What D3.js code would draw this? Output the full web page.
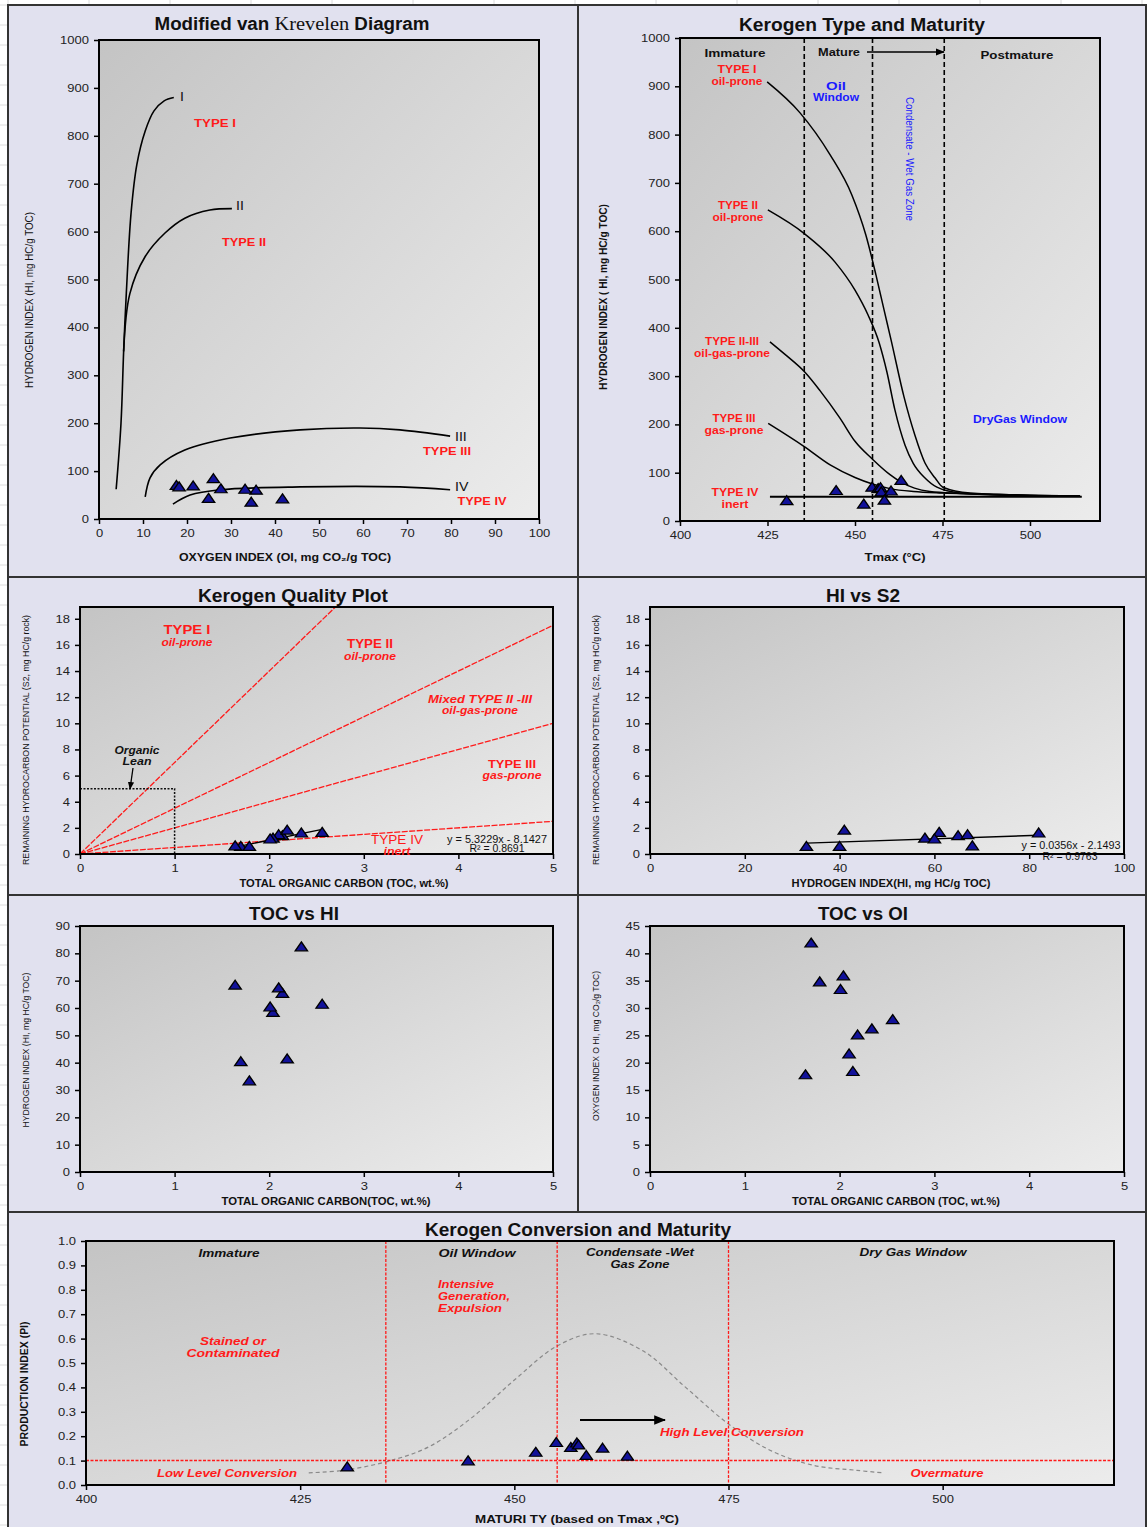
<!DOCTYPE html>
<html><head><meta charset="utf-8">
<script src="https://cdn.jsdelivr.net/npm/d3@7"></script>
<style>
body{margin:0;background:#fff;}
svg{display:block;font-family:"Liberation Sans",Arial,sans-serif;}
</style></head><body>
<svg id="c" width="1147" height="1527"></svg>
<script>
// ---- Rock-Eval samples (one entry per sample) ----
const sampleTmax = [430.5, 444.6, 452.5, 454.9, 456.6, 457.3, 457.5, 458.4, 460.3, 463.2];
const sampleTOC  = [1.70, 2.56, 1.79, 1.64, 2.14, 2.10, 2.04, 2.19, 2.01, 2.34];
const sampleHI   = [40, 61, 33, 68, 65, 67, 58, 41, 60, 82];
const sampleOI   = [41.7, 27.7, 34.6, 17.6, 18.2, 21.4, 35.7, 24.9, 33.2, 26.0];
const sampleS2   = [0.50, 1.58, 0.50, 0.55, 1.32, 1.40, 1.14, 1.75, 1.07, 1.53];
const samplePI   = [0.07, 0.095, 0.13, 0.17, 0.15, 0.168, 0.16, 0.117, 0.147, 0.114];

// ---- van Krevelen evolution paths [OI, HI] ----
const vkTypeI   = [[3.9,62],[5.0,200],[5.6,350],[6.2,470],[7.3,640],[8.6,740],[10.5,810],[12.5,852],[14.8,873],[17.0,880]];
const vkTypeII  = [[5.6,350],[7.0,470],[10.5,548],[15,597],[19.5,628],[25.2,645],[30.2,648]];
const vkTypeIII = [[10.5,46],[11.6,86],[13.9,113],[19.5,144],[29.8,169],[45.7,186],[59.3,190],[68.4,186],[79.8,173]];
const vkTypeIV  = [[16.8,31],[20.7,50],[27.5,61],[45.7,67],[68.4,67],[79.8,61]];

// ---- HI vs Tmax kerogen maturation paths [Tmax, HI] ----
const tmTypeI    = [[424.9,909],[434.3,845],[442.9,758],[449.1,675],[453.1,592],[456.0,509],[458.3,437],[460.3,375],[464.0,257],[467.1,178],[470.0,120],[472.9,89],[475.1,70],[482.9,58],[497.1,54],[514.3,52]];
const tmTypeII   = [[425.1,644],[435.7,594],[444.3,536],[450.0,478],[453.7,427],[456.9,369],[459.1,309],[461.4,230],[464.3,157],[466.6,120],[470.0,89],[473.4,70],[480.0,58],[491.4,54],[514.3,52]];
const tmTypeIIIII= [[425.7,371],[430,345],[435.7,308],[440,270],[445.7,213],[450,165],[455,128],[460,96],[463.3,80],[467,68],[471.4,61],[480,57],[491,54],[514.3,52]];
const tmTypeIII  = [[425.2,202],[435.5,154],[442.9,116],[450,90],[455.2,76],[460,67],[466.7,61],[475,58],[485.7,56],[500,53],[514.3,52]];
const tmTypeIV   = [[425.7,50],[514.8,50]];
const tmZoneBounds = [435.5, 455, 475.5];

// ---- S2 vs TOC kerogen type boundaries (HI, mg HC/g TOC) ----
const qualityHI = [700, 350, 200, 50];
const organicLean = {toc: 1, s2: 5};

// ---- PI vs Tmax conversion envelope [Tmax, PI] ----
const piEnvelope = [[426,0.05],[430,0.06],[435,0.095],[440,0.156],[445,0.275],[450,0.43],[455,0.57],[459.5,0.62],[465,0.55],[470,0.40],[475,0.25],[480,0.14],[485,0.08],[490,0.06],[493,0.05]];
const piZoneBounds = [435, 455, 475];
const piThreshold = 0.1;

// ---- tick values ----
const ticksVK_OI   = [0,10,20,30,40,50,60,70,80,90,100];
const ticksHI1000  = [0,100,200,300,400,500,600,700,800,900,1000];
const ticksTmax    = [400,425,450,475,500];
const ticksTOC     = [0,1,2,3,4,5];
const ticksS2      = [0,2,4,6,8,10,12,14,16,18];
const ticksHI100   = [0,20,40,60,80,100];
const ticksHI90    = [0,10,20,30,40,50,60,70,80,90];
const ticksOI45    = [0,5,10,15,20,25,30,35,40,45];
const ticksPI      = [0,0.1,0.2,0.3,0.4,0.5,0.6,0.7,0.8,0.9,1.0];

const RED = "#ff1a1a", BLUE = "#1a1aff", NAVY = "#12129a";
const STRETCH = 1.18;   // lettering is set slightly wide

const svg = d3.select("#c");
const defs = svg.append("defs");
const grad = defs.append("linearGradient").attr("id","plotFill").attr("x1",0).attr("y1",0).attr("x2",1).attr("y2",1);
grad.append("stop").attr("offset",0).attr("stop-color","#c4c4c4");
grad.append("stop").attr("offset",1).attr("stop-color","#ececec");
const mk = defs.append("marker").attr("id","arrow").attr("viewBox","0 0 10 10").attr("refX",9).attr("refY",5)
  .attr("markerWidth",6).attr("markerHeight",6).attr("orient","auto");
mk.append("path").attr("d","M0,1L10,5L0,9Z").attr("fill","#000");

// spreadsheet grid behind the panels
const bg = svg.append("g").attr("stroke","#dcdcdc").attr("stroke-width",1);
d3.range(8, 1147, 81).forEach(v => bg.append("line").attr("x1",v).attr("x2",v).attr("y1",0).attr("y2",1527));
d3.range(5, 1527, 20).forEach(v => bg.append("line").attr("y1",v).attr("y2",v).attr("x1",0).attr("x2",1147));

// text helper; w / len = fit the string to this width
function txt(x, y, s, o = {}) {
  const t = svg.append("text").attr("x", x).attr("y", y)
    .attr("font-size", o.size || 11).attr("font-weight", o.weight || "normal")
    .attr("font-style", o.style || "normal").attr("fill", o.fill || "#111")
    .attr("text-anchor", o.anchor || "middle").text(s);
  if (o.family) t.attr("font-family", o.family);
  if (o.rotate) t.attr("transform", `rotate(${o.rotate},${x},${y})`);
  const L = o.len || o.w;
  if (L) t.attr("textLength", L).attr("lengthAdjust", "spacingAndGlyphs");
  return t;
}
const redB  = (w, size = 10.5) => ({size, weight:"bold", fill:RED, w});
const redBI = (w, size = 10.5) => ({size, weight:"bold", style:"italic", fill:RED, w});

function frame(x, y, w, h) {
  svg.append("rect").attr("x",x).attr("y",y).attr("width",w).attr("height",h)
    .attr("fill","#e1e1ef").attr("stroke","#333").attr("stroke-width",2);
}

let clipId = 0;
function plot(p, xDom, yDom, xt, yt, xfmt, yfmt) {
  const x = d3.scaleLinear().domain(xDom).range([p.l, p.r]);
  const y = d3.scaleLinear().domain(yDom).range([p.b, p.t]);
  svg.append("rect").attr("x",p.l).attr("y",p.t).attr("width",p.r-p.l).attr("height",p.b-p.t)
    .attr("fill","url(#plotFill)");
  const id = "clip" + (clipId++);
  defs.append("clipPath").attr("id", id).append("rect")
    .attr("x",p.l).attr("y",p.t).attr("width",p.r-p.l).attr("height",p.b-p.t);
  const g = svg.append("g").attr("clip-path", `url(#${id})`);
  const ax = svg.append("g").attr("transform",`translate(0,${p.b})`)
    .call(d3.axisBottom(x).tickValues(xt).tickSize(5).tickSizeOuter(0).tickPadding(5).tickFormat(xfmt || d3.format("d")));
  const ay = svg.append("g").attr("transform",`translate(${p.l},0)`)
    .call(d3.axisLeft(y).tickValues(yt).tickSize(5).tickSizeOuter(0).tickPadding(5).tickFormat(yfmt || d3.format("d")));
  [ax, ay].forEach(a => {
    a.select(".domain").remove();
    a.selectAll(".tick line").attr("stroke","#000").attr("stroke-width",1.5);
    a.selectAll(".tick text").attr("font-size",11).attr("fill","#222").attr("font-family","Liberation Sans, Arial, sans-serif");
  });
  const border = () => svg.append("rect").attr("x",p.l).attr("y",p.t).attr("width",p.r-p.l).attr("height",p.b-p.t)
    .attr("fill","none").attr("stroke","#000").attr("stroke-width",2);
  return {x, y, g, p, border};
}

function tri(P, xs, ys) {
  P.g.selectAll(null).data(xs.map((v, i) => [v, ys[i]])).join("path")
    .attr("d", d3.symbol(d3.symbolTriangle, 46))
    .attr("transform", d => `translate(${P.x(d[0])},${P.y(d[1])}) scale(1.2,1)`)
    .attr("fill", NAVY).attr("stroke","#000").attr("stroke-width",1.2);
}

function curve(P, pts, o = {}) {
  return P.g.append("path").datum(pts)
    .attr("d", d3.line().x(d => P.x(d[0])).y(d => P.y(d[1])).curve(o.curve || d3.curveCatmullRom.alpha(0.5)))
    .attr("fill","none").attr("stroke", o.stroke || "#000").attr("stroke-width", o.width || 1.5)
    .attr("stroke-dasharray", o.dash || null);
}

function fitLine(xs, ys) {
  const mx = d3.mean(xs), my = d3.mean(ys);
  const b = d3.sum(xs, (v, i) => (v - mx) * (ys[i] - my)) / d3.sum(xs, v => (v - mx) ** 2);
  const a = my - b * mx;
  const [x0, x1] = d3.extent(xs);
  return [[x0, a + b * x0], [x1, a + b * x1]];
}

function title(x, y, s, w) { return txt(x, y, s, {size:17.5, weight:"bold", w}); }

// ================= Panel frames =================
frame(8, 5, 570, 572);
frame(578, 5, 568, 572);
frame(8, 577, 570, 318);
frame(578, 577, 568, 318);
frame(8, 895, 570, 317);
frame(578, 895, 568, 317);
frame(8, 1212, 1138, 318);

// ================= Modified van Krevelen =================
{
  const P = plot({l:99, r:539, t:40, b:519}, [0,100], [0,1000], ticksVK_OI, ticksHI1000);
  [vkTypeI, vkTypeII, vkTypeIII, vkTypeIV].forEach(c => curve(P, c, {width:1.6}));
  tri(P, sampleOI, sampleHI);
  P.border();
  const t = svg.append("text").attr("x", 292).attr("y", 30).attr("text-anchor","middle").attr("fill","#111")
    .attr("textLength", 275).attr("lengthAdjust","spacingAndGlyphs");
  t.append("tspan").attr("font-size",17.5).attr("font-weight","bold").text("Modified van ");
  t.append("tspan").attr("font-size",19).attr("font-family","Liberation Serif, Times New Roman, serif").text("Krevelen");
  t.append("tspan").attr("font-size",17.5).attr("font-weight","bold").text(" Diagram");
  txt(180, 101, "I", {size:12, anchor:"start"});
  txt(236, 210, "II", {size:12, anchor:"start"});
  txt(455, 441, "III", {size:12, anchor:"start"});
  txt(455, 491, "IV", {size:12, anchor:"start"});
  txt(215, 127, "TYPE I", redB(42, 11));
  txt(244, 246, "TYPE II", redB(44, 11));
  txt(447, 455, "TYPE III", redB(48, 11));
  txt(482, 505, "TYPE IV", redB(49, 11));
  txt(285, 561, "OXYGEN INDEX (OI, mg CO\u2082/g  TOC)", {size:10, weight:"bold", len:212});
  txt(33, 300, "HYDROGEN INDEX (HI, mg HC/g TOC)", {size:10, rotate:-90, len:176});
}

// ================= Kerogen Type and Maturity =================
{
  const P = plot({l:680, r:1100, t:38, b:521}, [400,520], [0,1000], ticksTmax, ticksHI1000);
  tmZoneBounds.forEach(v => P.g.append("line").attr("x1",P.x(v)).attr("x2",P.x(v)).attr("y1",P.p.t).attr("y2",P.p.b)
    .attr("stroke","#000").attr("stroke-width",1.6).attr("stroke-dasharray","5,3"));
  [tmTypeI, tmTypeII, tmTypeIIIII, tmTypeIII].forEach(c => curve(P, c, {width:1.5, curve:d3.curveMonotoneX}));
  curve(P, tmTypeIV, {width:2, curve:d3.curveLinear});
  tri(P, sampleTmax, sampleHI);
  P.border();
  title(862, 31, "Kerogen Type and Maturity", 246);
  txt(735, 57, "Immature", {size:11, weight:"bold", w:61});
  txt(839, 56, "Mature", {size:11, weight:"bold", w:42});
  svg.append("line").attr("x1",867).attr("x2",944).attr("y1",52).attr("y2",52).attr("stroke","#000").attr("stroke-width",1.5).attr("marker-end","url(#arrow)");
  txt(1017, 59, "Postmature", {size:11, weight:"bold", w:73});
  txt(836, 90, "Oil", {size:10.5, weight:"bold", fill:BLUE, w:20});
  txt(836, 101, "Window", {size:10.5, weight:"bold", fill:BLUE, w:46});
  txt(906, 159, "Condensate - Wet Gas Zone", {size:11, fill:BLUE, rotate:90, len:124});
  txt(1020, 423, "DryGas Window", {size:10.5, weight:"bold", fill:BLUE, w:94});
  const lab = [[737,73,"TYPE I",39,"oil-prone",51],[738,209,"TYPE II",40,"oil-prone",51],[732,345,"TYPE II-III",54,"oil-gas-prone",76],
               [734,422,"TYPE III",43,"gas-prone",59],[735,496,"TYPE IV",47,"inert",27]];
  lab.forEach(d => { txt(d[0], d[1], d[2], redB(d[3], 10)); txt(d[0], d[1]+12, d[4], redB(d[5], 10)); });
  txt(895, 561, "Tmax (\u00B0C)", {size:11, weight:"bold", w:61});
  txt(607, 297, "HYDROGEN INDEX ( HI, mg HC/g TOC)", {size:10, weight:"bold", rotate:-90, len:186});
}

// ================= Kerogen Quality Plot =================
{
  const P = plot({l:80, r:553, t:607, b:854}, [0,5], [0,18.9], ticksTOC, ticksS2);
  qualityHI.forEach(h => P.g.append("line").attr("x1",P.x(0)).attr("y1",P.y(0)).attr("x2",P.x(5)).attr("y2",P.y(h/100*5))
    .attr("stroke",RED).attr("stroke-width",1.3).attr("stroke-dasharray","6,1.5"));
  P.g.append("path").attr("d", `M${P.x(0)},${P.y(organicLean.s2)}H${P.x(organicLean.toc)}V${P.y(0)}`)
    .attr("fill","none").attr("stroke","#111").attr("stroke-width",1.5).attr("stroke-dasharray","2,1.5");
  const f = fitLine(sampleTOC, sampleS2);
  curve(P, f, {curve:d3.curveLinear, width:1.4});
  tri(P, sampleTOC, sampleS2);
  P.border();
  title(293, 602, "Kerogen Quality Plot", 190);
  txt(187, 634, "TYPE  I", redB(47, 12));
  txt(187, 646, "oil-prone", redBI(51, 10));
  txt(370, 648, "TYPE II", redB(46, 12));
  txt(370, 660, "oil-prone", redBI(52, 10));
  txt(480, 703, "Mixed TYPE II -III", redBI(104, 10.5));
  txt(480, 714, "oil-gas-prone", redBI(76, 10));
  txt(512, 768, "TYPE III", redB(48, 11));
  txt(512, 779, "gas-prone", redBI(59, 10));
  txt(397, 844, "TYPE  IV", {size:12.5, fill:RED, w:52});
  txt(397, 855, "inert", redBI(27, 10));
  txt(137, 754, "Organic", {size:10.5, weight:"bold", style:"italic", w:45});
  txt(137, 765, "Lean", {size:10.5, weight:"bold", style:"italic", w:29});
  svg.append("line").attr("x1",133).attr("y1",768).attr("x2",130).attr("y2",789).attr("stroke","#000").attr("stroke-width",1.3).attr("marker-end","url(#arrow)");
  txt(497, 843, "y = 5.3229x - 8.1427", {size:10, len:100});
  txt(497, 852, "R\u00B2 = 0.8691", {size:10, len:55});
  txt(344, 887, "TOTAL ORGANIC CARBON (TOC, wt.%)", {size:10, weight:"bold", len:209});
  txt(29, 740, "REMAINING HYDROCARBON POTENTIAL (S2, mg HC/g rock)", {size:9.5, rotate:-90, len:250});
}

// ================= HI vs S2 =================
{
  const P = plot({l:650, r:1124, t:607, b:854}, [0,100], [0,18.9], ticksHI100, ticksS2);
  const f = fitLine(sampleHI, sampleS2);
  curve(P, f, {curve:d3.curveLinear, width:1.4});
  tri(P, sampleHI, sampleS2);
  txt(1071, 849, "y = 0.0356x - 2.1493", {size:10, len:99});
  txt(1070, 860, "R\u00B2 = 0.9763", {size:10, len:55});
  P.border();
  title(863, 602, "HI vs S2", 74);
  txt(891, 887, "HYDROGEN INDEX(HI, mg HC/g TOC)", {size:10, weight:"bold", len:199});
  txt(599, 740, "REMAINING HYDROCARBON POTENTIAL (S2, mg HC/g rock)", {size:9.5, rotate:-90, len:250});
}

// ================= TOC vs HI =================
{
  const P = plot({l:80, r:553, t:926, b:1172}, [0,5], [0,90], ticksTOC, ticksHI90);
  tri(P, sampleTOC, sampleHI);
  P.border();
  title(294, 920, "TOC vs HI", 90);
  txt(326, 1205, "TOTAL ORGANIC CARBON(TOC, wt.%)", {size:10, weight:"bold", len:209});
  txt(29, 1050, "HYDROGEN INDEX (HI, mg HC/g TOC)", {size:9.5, rotate:-90, len:155});
}

// ================= TOC vs OI =================
{
  const P = plot({l:650, r:1124, t:926, b:1172}, [0,5], [0,45], ticksTOC, ticksOI45);
  tri(P, sampleTOC, sampleOI);
  P.border();
  title(863, 920, "TOC vs OI", 90);
  txt(896, 1205, "TOTAL ORGANIC CARBON (TOC, wt.%)", {size:10, weight:"bold", len:208});
  txt(599, 1046, "OXYGEN INDEX O HI, mg CO\u2082/g TOC)", {size:9.5, rotate:-90, len:150});
}

// ================= Kerogen Conversion and Maturity =================
{
  const P = plot({l:86, r:1114, t:1241, b:1485}, [400,520], [0,1], ticksTmax, ticksPI, d3.format("d"), d3.format(".1f"));
  curve(P, piEnvelope, {stroke:"#8a8a8a", width:1.2, dash:"4,3"});
  piZoneBounds.forEach(v => P.g.append("line").attr("x1",P.x(v)).attr("x2",P.x(v)).attr("y1",P.p.t).attr("y2",P.p.b)
    .attr("stroke",RED).attr("stroke-width",1.3).attr("stroke-dasharray","3,1.5"));
  P.g.append("line").attr("x1",P.p.l).attr("x2",P.p.r).attr("y1",P.y(piThreshold)).attr("y2",P.y(piThreshold))
    .attr("stroke",RED).attr("stroke-width",1.5).attr("stroke-dasharray","3,1.5");
  tri(P, sampleTmax, samplePI);
  P.border();
  title(578, 1236, "Kerogen Conversion and Maturity", 306);
  const blk = w => ({size:11, weight:"bold", style:"italic", w});
  txt(229, 1257, "Immature", blk(61));
  txt(477, 1257, "Oil  Window", blk(77));
  txt(640, 1256, "Condensate -Wet", blk(108));
  txt(640, 1268, "Gas Zone", blk(59));
  txt(913, 1256, "Dry Gas Window", blk(107));
  txt(438, 1288, "Intensive", {...redBI(56, 11), anchor:"start"});
  txt(438, 1300, "Generation,", {...redBI(72, 11), anchor:"start"});
  txt(438, 1312, "Expulsion", {...redBI(64, 11), anchor:"start"});
  txt(233, 1345, "Stained or", redBI(66, 11));
  txt(233, 1357, "Contaminated", redBI(93, 11));
  svg.append("line").attr("x1",580).attr("x2",665).attr("y1",1420).attr("y2",1420).attr("stroke","#000").attr("stroke-width",2).attr("marker-end","url(#arrow)");
  txt(660, 1436, "High Level Conversion", {...redBI(144, 11), anchor:"start"});
  txt(157, 1477, "Low Level  Conversion", {...redBI(140, 11), anchor:"start"});
  txt(947, 1477, "Overmature", redBI(73, 11));
  txt(577, 1523, "MATURI TY  (based  on  Tmax ,\u00BAC)", {size:10.5, weight:"bold", len:204});
  txt(28, 1384, "PRODUCTION INDEX (PI)", {size:10.5, weight:"bold", rotate:-90, len:125});
}

// widen the remaining lettering (tick labels, curve tags) to the same set width
svg.selectAll("text").each(function () {
  if (this.hasAttribute("textLength")) return;
  const L = this.getComputedTextLength();
  if (L > 0) d3.select(this).attr("textLength", L * STRETCH).attr("lengthAdjust", "spacingAndGlyphs");
});
</script>
</body></html>
